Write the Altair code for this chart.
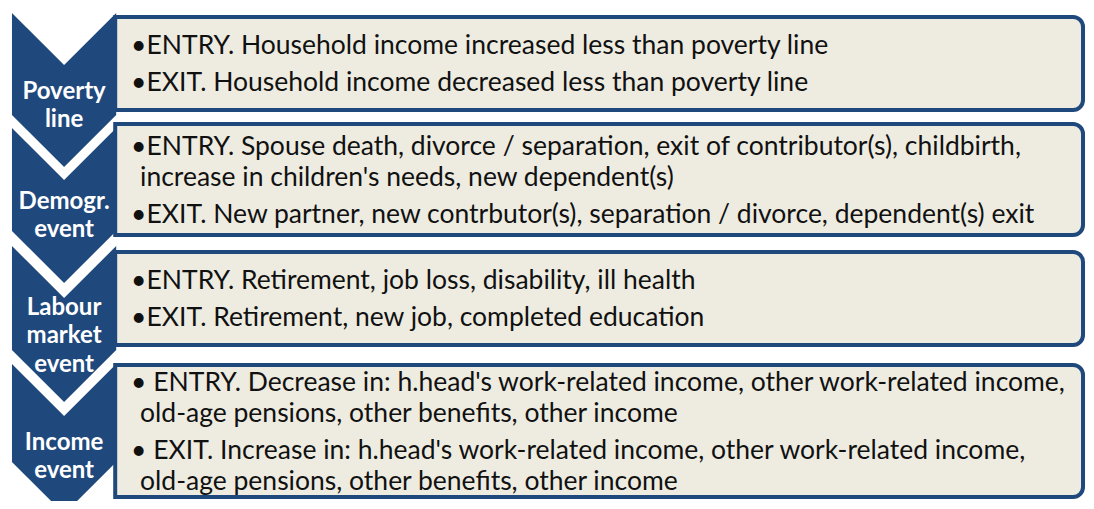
import altair as alt
import pandas as pd

# ---- content ----
chevron_labels = [
    ["Poverty", "line"],
    ["Demogr.", "event"],
    ["Labour", "market", "event"],
    ["Income", "event"],
]
entry_lines = [
    ["\u2022ENTRY. Household income increased less than poverty line"],
    ["\u2022ENTRY. Spouse death, divorce / separation, exit of contributor(s), childbirth,",
     "increase in children's needs, new dependent(s)"],
    ["\u2022ENTRY. Retirement, job loss, disability, ill health"],
    ["\u2022 ENTRY. Decrease in: h.head's work-related income, other work-related income,",
     "old-age pensions, other benefits, other income"],
]
exit_lines = [
    ["\u2022EXIT. Household income decreased less than poverty line"],
    ["\u2022EXIT. New partner, new contrbutor(s), separation / divorce, dependent(s) exit"],
    ["\u2022EXIT. Retirement, new job, completed education"],
    ["\u2022 EXIT. Increase in: h.head's work-related income, other work-related income,",
     "old-age pensions, other benefits, other income"],
]

# ---- layout (diagram coordinates, pixel-like) ----
BLUE = "#1F497D"
BOX_FILL = "#EEECE1"
CH_L, CH_R = 12, 117
CH_M = (CH_L + CH_R) / 2
DEPTH = 52
ch_top = [13, 128, 246, 364]
ch_bot = [115, 231, 350, 462]
BOX_L, BOX_R = 116, 1091
box_top = [17, 124, 252, 365]
box_bot = [110, 235, 345, 497]
TEXT_X, WRAP_X = 132, 141
WRAP_GAP, BULLET_GAP = 31, 37
LABEL_GAP = 28.5
LABEL_OFF = [41, 36, 38, 41]

# chevron polygons as areas between two piecewise-linear edges
ch_rows = []
for i in range(4):
    for x in (CH_L, CH_M, CH_R):
        f = 1 - abs(x - CH_M) / (CH_R - CH_M)
        ch_rows.append({"id": i, "x": x, "top": ch_top[i] + DEPTH * f,
                        "bot": ch_bot[i] + DEPTH * f})
ch_df = pd.DataFrame(ch_rows)

box_df = pd.DataFrame({"x": [BOX_L] * 4, "x2": [BOX_R] * 4,
                       "y": box_top, "y2": box_bot})

# box text rows
txt_rows = []
for i in range(4):
    bullets = [entry_lines[i], exit_lines[i]]
    cur = 0
    items = []
    for b, lines in enumerate(bullets):
        if b > 0:
            cur += BULLET_GAP
        for k, line in enumerate(lines):
            if k > 0:
                cur += WRAP_GAP
            items.append((line, cur, k > 0))
    height = cur
    center = (box_top[i] + box_bot[i]) / 2 + 1
    for line, off, wrapped in items:
        txt_rows.append({"text": line, "x": WRAP_X if wrapped else TEXT_X,
                         "y": center - height / 2 + off})
txt_df = pd.DataFrame(txt_rows)

# chevron label rows
lab_rows = []
for i, labs in enumerate(chevron_labels):
    center = ch_top[i] + DEPTH + LABEL_OFF[i]
    n = len(labs)
    for k, lab in enumerate(labs):
        lab_rows.append({"text": lab, "x": CH_M,
                         "y": center + (k - (n - 1) / 2) * LABEL_GAP})
lab_df = pd.DataFrame(lab_rows)

xs = alt.Scale(domain=[8, 1094], nice=False, zero=False)
ys = alt.Scale(domain=[8, 501], nice=False, zero=False, reverse=True)

boxes = alt.Chart(box_df).mark_rect(
    fill=BOX_FILL, stroke=BLUE, strokeWidth=4,
    cornerRadiusTopRight=10, cornerRadiusBottomRight=10
).encode(
    x=alt.X("x:Q", scale=xs, axis=None), x2="x2:Q",
    y=alt.Y("y:Q", scale=ys, axis=None), y2="y2:Q",
)

chevrons = alt.Chart(ch_df).mark_area(color=BLUE, orient="vertical").encode(
    x=alt.X("x:Q", scale=xs, axis=None),
    y=alt.Y("top:Q", scale=ys, axis=None), y2="bot:Q",
    detail="id:N",
)

texts = alt.Chart(txt_df).mark_text(
    align="left", baseline="middle", font="Lato", fontSize=26.5, color="#111111"
).encode(
    x=alt.X("x:Q", scale=xs, axis=None),
    y=alt.Y("y:Q", scale=ys, axis=None),
    text="text:N",
)

labels = alt.Chart(lab_df).mark_text(
    align="center", baseline="middle", font="Lato", fontWeight="bold",
    fontSize=24, color="white"
).encode(
    x=alt.X("x:Q", scale=xs, axis=None),
    y=alt.Y("y:Q", scale=ys, axis=None),
    text="text:N",
)

chart = alt.layer(boxes, chevrons, texts, labels).properties(
    width=1078, height=493,
    autosize=alt.AutoSizeParams(type="none"), padding=0,
).configure_view(stroke=None)

chart.save("out.html", embed_options={"renderer": "svg", "actions": False})
